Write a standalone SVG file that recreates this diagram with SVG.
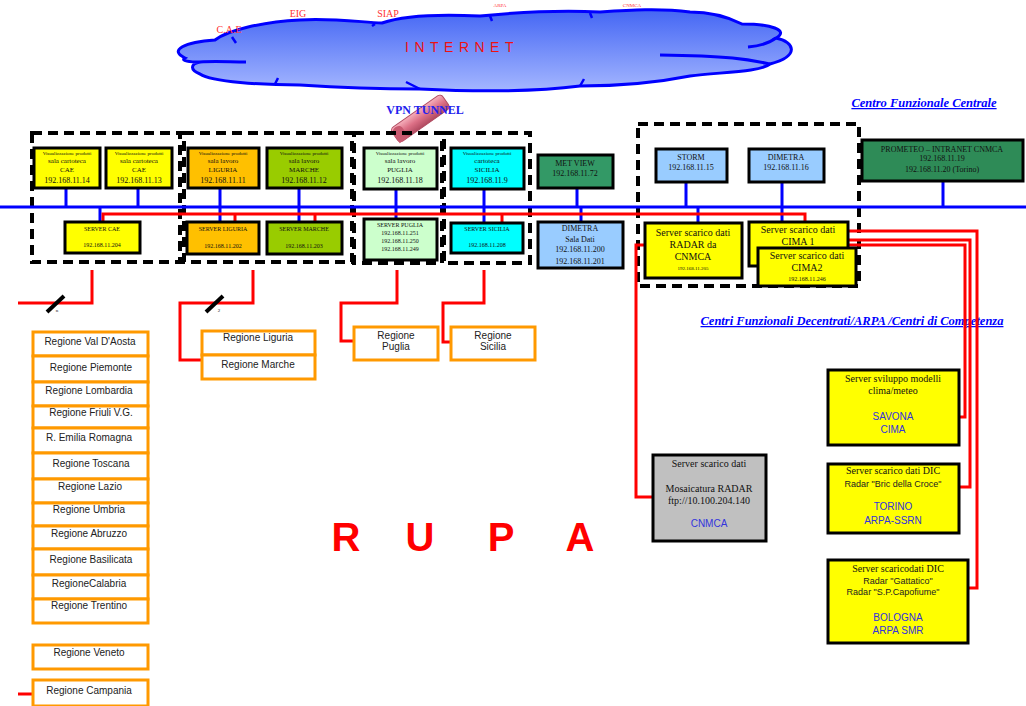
<svg xmlns="http://www.w3.org/2000/svg" width="1026" height="706" viewBox="0 0 1026 706">
  <defs>
    <linearGradient id="cloudFill" x1="0" y1="0" x2="0" y2="1">
      <stop offset="0" stop-color="#4466f4"/>
      <stop offset="1" stop-color="#a4b6ff"/>
    </linearGradient>
    <linearGradient id="tubeFill" x1="0" y1="0" x2="0" y2="1">
      <stop offset="0" stop-color="#f6b0bc"/>
      <stop offset="0.5" stop-color="#dc7086"/>
      <stop offset="1" stop-color="#b04a60"/>
    </linearGradient>
    <style>
      .grp { fill: none; stroke: #000; stroke-width: 4; stroke-dasharray: 10 6; }
      .box { stroke: #000; stroke-width: 3; }
      .bus { stroke: #0000ff; stroke-width: 3; fill: none; }
      .red { stroke: #ff0000; stroke-width: 3; fill: none; }
      .reg rect { fill: #fff; stroke: #ff9900; stroke-width: 3; }
      .t { font-family: "Liberation Serif", serif; text-anchor: middle; fill: #111; }
      .s { font-family: "Liberation Sans", Arial, sans-serif; text-anchor: middle; fill: #222; }
      .bl { font-family: "Liberation Sans", Arial, sans-serif; text-anchor: middle; fill: #3333dd; font-size: 10px; }
      .hd { font-family: "Liberation Serif", serif; font-weight: bold; font-style: italic; fill: #0000ff; text-decoration: underline; font-size: 12.5px; }
      .f5 { font-size: 5px; }
      .f6 { font-size: 6px; }
      .f7 { font-size: 7px; }
      .f8 { font-size: 8px; }
      .f9 { font-size: 9px; }
      .f10 { font-size: 10px; }
      .yel { fill: #ffff00; }
      .org { fill: #ffc000; }
      .grn { fill: #99cc00; }
      .lgr { fill: #ccffcc; }
      .cya { fill: #00ffff; }
      .lbl { fill: #99ccff; }
      .dgr { fill: #339966; }
    </style>
  </defs>

  <rect width="1026" height="706" fill="#fff"/>

  <!-- Internet cloud -->
  <g id="internet">
    <path d="M 185,58 C 168,50 185,42 215,40 C 228,30 262,22 300,20 C 330,18 360,22 382,23 C 402,16 440,14 480,16 C 520,12 560,10 600,12 C 630,10 660,8 690,12 C 712,12 730,18 742,24 C 770,24 790,30 776,38 C 795,42 800,56 770,64 C 760,72 722,72 690,76 C 660,82 620,86 580,86 C 540,91 480,92 420,89 C 380,89 330,87 300,85 C 262,85 212,82 200,74 C 190,70 190,64 200,62 C 190,62 180,61 185,58 Z" fill="url(#cloudFill)" stroke="#0000ff" stroke-width="3"/>
    <path d="M 200,62 C 215,61 230,62 246,62" fill="none" stroke="#0000ff" stroke-width="3"/>
    <path d="M 776,38 C 768,44 760,46 748,47" fill="none" stroke="#0000ff" stroke-width="3"/>
    <path d="M 770,64 C 750,60 735,56 660,55" fill="none" stroke="#0000ff" stroke-width="3"/>
    <path d="M 232,37 L 236,43 M 375,24 L 372,26 M 490,16 L 492,21 M 590,13 L 592,18 M 420,89 L 406,82 M 580,86 L 584,79 M 275,84 L 278,78" fill="none" stroke="#0000ff" stroke-width="2.5"/>
    <text x="462" y="52" font-family="Liberation Sans, Arial, sans-serif" font-size="14" fill="#ee1111" text-anchor="middle" letter-spacing="5.5">INTERNET</text>
    <text x="229" y="33" class="t f10" style="fill:#ff3333">C.A.E</text>
    <text x="298" y="17" class="t f10" style="fill:#ff3333">EIG</text>
    <text x="388" y="17" class="t f10" style="fill:#ff3333">SIAP</text>
    <text x="500" y="7" class="t f5" style="fill:#ff3333">ARPA</text>
    <text x="632" y="7" class="t f5" style="fill:#ff3333">CNMCA</text>
  </g>

  <!-- VPN tunnel -->
  <g id="vpn-tunnel">
    <g transform="translate(420,118) rotate(-35)">
      <rect x="-31" y="-8" width="62" height="17" rx="4" fill="url(#tubeFill)" stroke="#b04a60" stroke-width="1"/>
      <path d="M -31,9 L -31,-2 C -31,-8 -20,-8 -20,-2 L -20,9 Z" fill="#c85a70"/>
    </g>
    <text x="425" y="114" font-family="Liberation Serif, serif" font-weight="bold" font-size="12" fill="#2222ee" text-anchor="middle">VPN TUNNEL</text>
  </g>

  <text x="924" y="107" class="hd" text-anchor="middle">Centro Funzionale Centrale</text>
  <text x="852" y="325" class="hd" text-anchor="middle">Centri Funzionali Decentrati/ARPA /Centri di Competenza</text>

  <!-- Site groupings -->
  <g id="groups">
    <rect class="grp" x="32" y="133" width="148" height="129"/>
    <rect class="grp" x="184" y="133" width="168" height="129"/>
    <rect class="grp" x="354" y="133" width="88" height="130"/>
    <rect class="grp" x="444" y="133" width="86" height="130"/>
    <rect class="grp" x="638" y="124" width="221" height="162"/>
  </g>

  <!-- Connectors -->
  <g id="connectors">
    <line class="bus" x1="0" y1="207" x2="1026" y2="207"/>
    <!-- drops from upper nodes to the LAN -->
    <path class="bus" d="M66,188 V207 M138,188 V207 M220,188 V207 M299,188 V207 M396,189 V207 M484,189 V207 M577,188 V207 M686,182 V207 M782,182 V207 M943,181 V207"/>
    <!-- drops from the LAN to servers -->
    <path class="bus" d="M100,207 V222 M220,207 V222 M299,207 V222 M396,207 V219 M484,207 V223 M581,207 V222 M698,207 V223 M782,207 V222"/>
    <!-- RUPA backbone -->
    <path class="red" d="M103,222 V214 H805 V222"/>
    <path class="red" d="M235,214 V222 M315,214 V222 M502,214 V223"/>
    <!-- links to the regions -->
    <path class="red" d="M92,270 V303 H18"/>
    <path class="red" d="M253,270 V303 H180 V360 H203"/>
    <path class="red" d="M397,270 V303 H341 V341 H354"/>
    <path class="red" d="M484,270 V303 H443 V342 H451"/>
    <path class="red" d="M18,694 H35"/>
    <!-- radar mosaic link -->
    <path class="red" d="M645,245 H636 V497 H653"/>
    <!-- CIMA links to the decentralised centres -->
    <path class="red" d="M848,231 H977 V588 H968"/>
    <path class="red" d="M848,240 H970 V487 H959"/>
    <path class="red" d="M848,245 H965 V417 H959"/>
    <!-- link multiplicity marks -->
    <line x1="47" y1="312" x2="64" y2="296" stroke="#000" stroke-width="4"/>
    <text x="57" y="312" class="t f5">n</text>
    <line x1="206" y1="312" x2="223" y2="296" stroke="#000" stroke-width="4"/>
    <text x="219" y="312" class="t f5">2</text>
  </g>

  <!-- CAE -->
  <g id="vis-cae-1">
    <rect class="box yel" x="34" y="148" width="66" height="40"/>
    <text x="67" y="155" class="t f5">Visualizzazione prodotti</text>
    <text x="67" y="163" class="t f7">sala cartoteca</text>
    <text x="67" y="172" class="t f7">CAE</text>
    <text x="67" y="183" class="t f8">192.168.11.14</text>
  </g>
  <g id="vis-cae-2">
    <rect class="box yel" x="106" y="148" width="66" height="40"/>
    <text x="139" y="155" class="t f5">Visualizzazione prodotti</text>
    <text x="139" y="163" class="t f7">sala cartoteca</text>
    <text x="139" y="172" class="t f7">CAE</text>
    <text x="139" y="183" class="t f8">192.168.11.13</text>
  </g>
  <g id="server-cae">
    <rect class="box yel" x="65" y="222" width="75" height="31"/>
    <text x="102" y="231" class="t f6">SERVER CAE</text>
    <text x="102" y="247" class="t f6">192.168.11.204</text>
  </g>

  <!-- Liguria -->
  <g id="vis-liguria">
    <rect class="box org" x="188" y="148" width="71" height="40"/>
    <text x="223" y="155" class="t f5">Visualizzazione prodotti</text>
    <text x="223" y="163" class="t f7">sala lavoro</text>
    <text x="223" y="172" class="t f7">LIGURIA</text>
    <text x="223" y="183" class="t f8">192.168.11.11</text>
  </g>
  <g id="server-liguria">
    <rect class="box org" x="187" y="222" width="72" height="32"/>
    <text x="223" y="231" class="t f6">SERVER LIGURIA</text>
    <text x="223" y="248" class="t f6">192.168.11.202</text>
  </g>

  <!-- Marche -->
  <g id="vis-marche">
    <rect class="box grn" x="267" y="148" width="75" height="40"/>
    <text x="304" y="155" class="t f5">Visualizzazione prodotti</text>
    <text x="304" y="163" class="t f7">sala lavoro</text>
    <text x="304" y="172" class="t f7">MARCHE</text>
    <text x="304" y="183" class="t f8">192.168.11.12</text>
  </g>
  <g id="server-marche">
    <rect class="box grn" x="267" y="222" width="75" height="32"/>
    <text x="304" y="231" class="t f6">SERVER MARCHE</text>
    <text x="304" y="248" class="t f6">192.168.11.203</text>
  </g>

  <!-- Puglia -->
  <g id="vis-puglia">
    <rect class="box lgr" x="364" y="148" width="73" height="41"/>
    <text x="400" y="155" class="t f5">Visualizzazione prodotti</text>
    <text x="400" y="163" class="t f7">sala lavoro</text>
    <text x="400" y="172" class="t f7">PUGLIA</text>
    <text x="400" y="183" class="t f8">192.168.11.18</text>
  </g>
  <g id="server-puglia">
    <rect class="box lgr" x="364" y="219" width="73" height="41"/>
    <text x="400" y="227" class="t f6">SERVER PUGLIA</text>
    <text x="400" y="235" class="t f6">192.168.11.251</text>
    <text x="400" y="243" class="t f6">192.168.11.250</text>
    <text x="400" y="251" class="t f6">192.168.11.249</text>
  </g>

  <!-- Sicilia -->
  <g id="vis-sicilia">
    <rect class="box cya" x="451" y="148" width="73" height="41"/>
    <text x="487" y="155" class="t f5">Visualizzazione prodotti</text>
    <text x="487" y="163" class="t f7">cartoteca</text>
    <text x="487" y="172" class="t f7">SICILIA</text>
    <text x="487" y="183" class="t f8">192.168.11.9</text>
  </g>
  <g id="server-sicilia">
    <rect class="box cya" x="451" y="223" width="72" height="30"/>
    <text x="487" y="231" class="t f6">SERVER SICILIA</text>
    <text x="487" y="247" class="t f6">192.168.11.208</text>
  </g>

  <!-- Central services -->
  <g id="met-view">
    <rect class="box dgr" x="538" y="155" width="75" height="33"/>
    <text x="575" y="166" class="t f8">MET VIEW</text>
    <text x="575" y="176" class="t f8">192.168.11.72</text>
  </g>
  <g id="dimetra-sala-dati">
    <rect class="box lbl" x="538" y="222" width="85" height="46"/>
    <text x="580" y="231" class="t f8">DIMETRA</text>
    <text x="580" y="242" class="t f8">Sala Dati</text>
    <text x="580" y="252" class="t f8">192.168.11.200</text>
    <text x="580" y="264" class="t f8">192.168.11.201</text>
  </g>
  <g id="storm">
    <rect class="box lbl" x="656" y="149" width="71" height="33"/>
    <text x="691" y="160" class="t f8">STORM</text>
    <text x="691" y="170" class="t f8">192.168.11.15</text>
  </g>
  <g id="dimetra">
    <rect class="box lbl" x="749" y="149" width="75" height="33"/>
    <text x="786" y="160" class="t f8">DIMETRA</text>
    <text x="786" y="170" class="t f8">192.168.11.16</text>
  </g>
  <g id="prometeo">
    <rect class="box" fill="#2e8b57" x="862" y="140" width="161" height="41"/>
    <text x="942" y="152" class="t f8">PROMETEO – INTRANET CNMCA</text>
    <text x="942" y="161" class="t f8">192.168.11.19</text>
    <text x="942" y="172" class="t f8">192.168.11.20 (Torino)</text>
  </g>
  <g id="server-radar">
    <rect class="box yel" x="645" y="223" width="97" height="55"/>
    <text x="693" y="236" class="t f10">Server scarico dati</text>
    <text x="693" y="248" class="t f10">RADAR  da</text>
    <text x="693" y="260" class="t f10">CNMCA</text>
    <text x="693" y="270" class="t f5">192.168.11.205</text>
  </g>
  <g id="server-cima1">
    <rect class="box yel" x="749" y="222" width="99" height="44"/>
    <text x="798" y="233" class="t f10">Server scarico dati</text>
    <text x="798" y="245" class="t f10">CIMA 1</text>
  </g>
  <g id="server-cima2">
    <rect class="box yel" x="758" y="248" width="98" height="38"/>
    <text x="807" y="259" class="t f10">Server scarico dati</text>
    <text x="807" y="271" class="t f10">CIMA2</text>
    <text x="807" y="281" class="t f6">192.168.11.246</text>
  </g>

  <!-- Decentralised centres -->
  <g id="mosaico-radar">
    <rect class="box" fill="#c0c0c0" x="653" y="455" width="113" height="86"/>
    <text x="709" y="467" class="t f10">Server scarico dati</text>
    <text x="709" y="492" class="t f10">Mosaicatura RADAR</text>
    <text x="709" y="504" class="t f10">ftp://10.100.204.140</text>
    <text x="709" y="527" class="bl">CNMCA</text>
  </g>
  <g id="savona-cima">
    <rect class="box yel" x="828" y="370" width="131" height="75"/>
    <text x="893" y="382" class="t f10">Server sviluppo modelli</text>
    <text x="893" y="394" class="t f10">clima/meteo</text>
    <text x="893" y="420" class="bl">SAVONA</text>
    <text x="893" y="433" class="bl">CIMA</text>
  </g>
  <g id="torino-arpa">
    <rect class="box yel" x="828" y="464" width="131" height="69"/>
    <text x="893" y="474" class="t f10">Server scarico dati DIC</text>
    <text x="893" y="487" class="s f9">Radar  "Bric della Croce"</text>
    <text x="893" y="510" class="bl">TORINO</text>
    <text x="893" y="524" class="bl">ARPA-SSRN</text>
  </g>
  <g id="bologna-arpa">
    <rect class="box yel" x="828" y="560" width="140" height="83"/>
    <text x="898" y="572" class="t f10">Server scaricodati DIC</text>
    <text x="898" y="584" class="s f9">Radar  "Gattatico"</text>
    <text x="893" y="595" class="s f9">Radar   "S.P.Capofiume"</text>
    <text x="898" y="621" class="bl">BOLOGNA</text>
    <text x="898" y="634" class="bl">ARPA SMR</text>
  </g>

  <!-- Regions on RUPA -->
  <g id="regioni-n" class="reg">
    <rect x="33" y="332" width="115" height="24"/>
    <rect x="33" y="356" width="115" height="26"/>
    <rect x="33" y="382" width="115" height="24"/>
    <rect x="33" y="406" width="115" height="22"/>
    <rect x="33" y="428" width="115" height="25"/>
    <rect x="33" y="453" width="115" height="26"/>
    <rect x="33" y="479" width="115" height="24"/>
    <rect x="33" y="503" width="115" height="23"/>
    <rect x="33" y="526" width="115" height="23"/>
    <rect x="33" y="549" width="115" height="26"/>
    <rect x="33" y="575" width="115" height="24"/>
    <rect x="33" y="599" width="115" height="24"/>
    <text x="90" y="345" class="s f10">Regione Val D'Aosta</text>
    <text x="91" y="371" class="s f10">Regione Piemonte</text>
    <text x="89" y="394" class="s f10">Regione Lombardia</text>
    <text x="91" y="416" class="s f10">Regione Friuli V.G.</text>
    <text x="89" y="441" class="s f10">R. Emilia Romagna</text>
    <text x="91" y="467" class="s f10">Regione Toscana</text>
    <text x="90" y="490" class="s f10">Regione Lazio</text>
    <text x="89" y="513" class="s f10">Regione Umbria</text>
    <text x="89" y="537" class="s f10">Regione Abruzzo</text>
    <text x="91" y="563" class="s f10">Regione Basilicata</text>
    <text x="89" y="587" class="s f10">RegioneCalabria</text>
    <text x="89" y="609" class="s f10">Regione Trentino</text>
  </g>
  <g id="regione-veneto" class="reg">
    <rect x="33" y="645" width="115" height="24"/>
    <text x="89" y="656" class="s f10">Regione Veneto</text>
  </g>
  <g id="regione-campania" class="reg">
    <rect x="33" y="680" width="115" height="26"/>
    <text x="89" y="694" class="s f10">Regione Campania</text>
  </g>
  <g id="regioni-2" class="reg">
    <rect x="202" y="331" width="113" height="24"/>
    <rect x="202" y="355" width="113" height="24"/>
    <text x="258" y="341" class="s f10">Regione Liguria</text>
    <text x="258" y="368" class="s f10">Regione Marche</text>
  </g>
  <g id="regione-puglia" class="reg">
    <rect x="354" y="327" width="84" height="33"/>
    <text x="396" y="339" class="s f10">Regione</text>
    <text x="396" y="350" class="s f10">Puglia</text>
  </g>
  <g id="regione-sicilia" class="reg">
    <rect x="451" y="327" width="84" height="33"/>
    <text x="493" y="339" class="s f10">Regione</text>
    <text x="493" y="350" class="s f10">Sicilia</text>
  </g>

  <!-- Network name -->
  <g id="rupa" font-family="Liberation Sans, Arial, sans-serif" font-weight="bold" font-size="40" fill="#ff0000" text-anchor="middle">
    <text x="346" y="551">R</text>
    <text x="420" y="551">U</text>
    <text x="501" y="551">P</text>
    <text x="580" y="551">A</text>
  </g>
</svg>
